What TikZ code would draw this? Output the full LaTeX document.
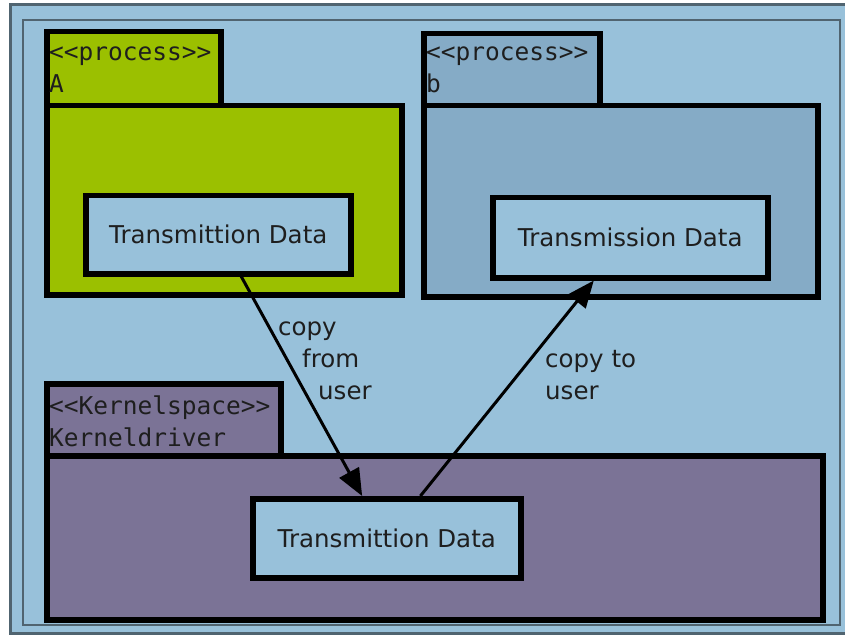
\documentclass[tikz,border=0pt]{standalone}
\usepackage{fontspec}
\setmainfont{DejaVu Sans}
\setmonofont{DejaVu Sans Mono}
\usetikzlibrary{arrows.meta,calc}
\definecolor{bgblue}{RGB}{152,193,218}
\definecolor{framegray}{RGB}{80,100,112}
\definecolor{procgreen}{RGB}{155,192,0}
\definecolor{procblue}{RGB}{133,171,198}
\definecolor{kernpurple}{RGB}{123,115,150}
\definecolor{txt}{RGB}{30,30,30}
\tikzset{
  pkg/.style={draw=black, line width=5.5pt, inner sep=0pt, anchor=north west},
  databox/.style={draw=black, line width=5.5pt, fill=bgblue, inner sep=0pt, anchor=north west,
    font=\fontsize{24.5}{30}\selectfont, text=txt},
  tabtext/.style={anchor=north west, align=left, inner sep=0pt,
    font=\ttfamily\fontsize{24.5}{32}\selectfont, text=txt},
  lbl/.style={anchor=north west, align=left, inner sep=0pt,
    font=\fontsize{24.5}{32}\selectfont, text=txt},
  arr/.style={line width=3pt, -{Triangle[length=27pt,width=22pt]}}
}
\begin{document}
\begin{tikzpicture}[x=1pt,y=-1pt]
\useasboundingbox (0,0) rectangle (845,636);
\fill[white] (0,0) rectangle (845,636);
% outer frame
\fill[bgblue] (10,5) rectangle (850,633);
\draw[framegray, line width=3pt] (10,5) rectangle (850,633);
\draw[framegray, line width=1.5pt] (23,20) rectangle (840,625);
% process A
\node[pkg, fill=procgreen, minimum width=174pt, minimum height=74pt] (atab) at (44,29) {};
\node[pkg, fill=procgreen, minimum width=355pt, minimum height=189pt] (abox) at (44,103) {};
\node[tabtext] (atxt) at (49,47) {<<process>>\\A};
\node[databox, minimum width=265pt, minimum height=78pt] (adata) at (83,193) {Transmittion Data};
% process b
\node[pkg, fill=procblue, minimum width=176pt, minimum height=72pt] (btab) at (421,31) {};
\node[pkg, fill=procblue, minimum width=394pt, minimum height=191pt] (bbox) at (421,103) {};
\node[tabtext] (btxt) at (426,47) {<<process>>\\b};
\node[databox, minimum width=275pt, minimum height=80pt] (bdata) at (490,195) {Transmission Data};
% kernel
\node[pkg, fill=kernpurple, minimum width=234pt, minimum height=72pt] (ktab) at (44,381) {};
\node[pkg, fill=kernpurple, minimum width=776pt, minimum height=164pt] (kbox) at (44,453) {};
\node[tabtext] (ktxt) at (49,396) {<<Kernelspace>>\\Kerneldriver};
\node[databox, minimum width=268pt, minimum height=79pt] (kdata) at (250,496) {Transmittion Data};
% arrows
\draw[arr] ($(adata.south west)!0.585!(adata.south east)$) -- ($(kdata.north west)!0.41!(kdata.north east)$);
\draw[arr] ($(kdata.north west)!0.623!(kdata.north east)$) -- ($(bdata.south west)!0.37!(bdata.south east)$);
% labels
\node[lbl] (l1) at (278,322) {copy\\\hspace{24pt}from\\\hspace{40pt}user};
\node[lbl] (l2) at (545,350) {copy to\\user};
\end{tikzpicture}
\end{document}
